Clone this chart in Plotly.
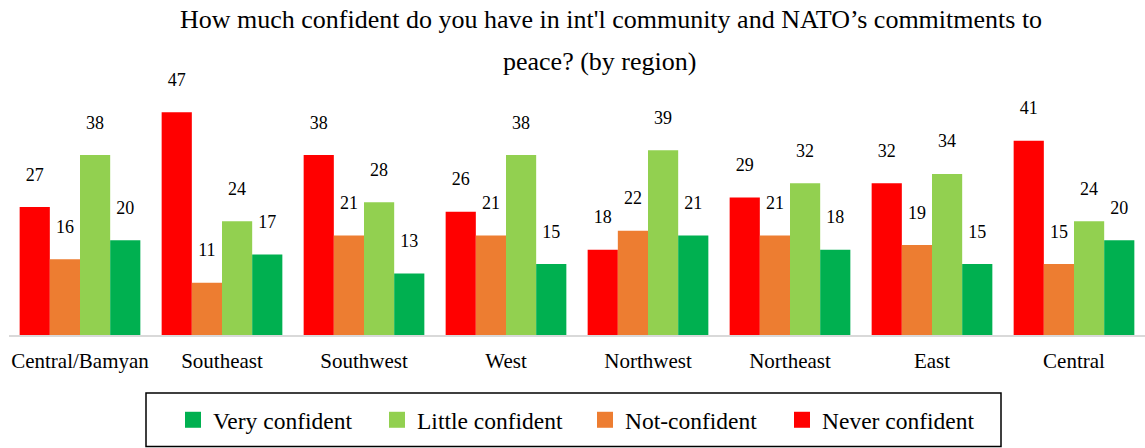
import plotly.graph_objects as go

categories = ["Central/Bamyan", "Southeast", "Southwest", "West", "Northwest", "Northeast", "East", "Central"]
never_confident = [27, 47, 38, 26, 18, 29, 32, 41]
not_confident = [16, 11, 21, 21, 22, 21, 19, 15]
little_confident = [38, 24, 28, 38, 39, 32, 34, 24]
very_confident = [20, 17, 13, 15, 21, 18, 15, 20]

series = [
    ("Never confident", never_confident, "#FF0000"),
    ("Not-confident", not_confident, "#ED7D31"),
    ("Little confident", little_confident, "#92D050"),
    ("Very confident", very_confident, "#00B050"),
]

FONT = "Liberation Serif"

# layout geometry (page body margin removed via post_script)
W, H = 1145, 448
ML, MR, MT, MB = 9, 0, 90, 113
PW = W - ML - MR
PH = H - MT - MB


def px_x(sx):
    return (sx - ML) / PW


def px_y(sy):
    return ((H - MB) - sy) / PH


fig = go.Figure()
for name, vals, color in series:
    fig.add_trace(go.Bar(
        x=categories, y=vals, name=name, marker_color=color,
        marker_line_width=0, showlegend=False,
        text=[f"{v}<br><span style='font-size:2px'> </span>" for v in vals],
        textposition="outside",
        textfont=dict(family=FONT, size=18, color="#000000"),
        cliponaxis=False, hoverinfo="skip",
    ))

# legend entries, one legend each for exact spacing
legend_left = [173, 377, 585, 782]
legend_names = ["legend", "legend2", "legend3", "legend4"]
legend_cfg = {}
for (name, vals, color), lg, lx in zip(reversed(series), legend_names, legend_left):
    fig.add_trace(go.Scatter(
        x=[None], y=[None], mode="markers", name=name, legend=lg,
        marker=dict(symbol="square", size=16, color=color),
        showlegend=True,
    ))
    legend_cfg[lg] = dict(
        orientation="h", x=px_x(lx), xanchor="left",
        y=px_y(420), yanchor="middle",
        borderwidth=0, bgcolor="rgba(0,0,0,0)",
        font=dict(family=FONT, size=23.5),
    )

fig.update_layout(
    width=W, height=H,
    margin=dict(l=ML, r=MR, t=MT, b=MB, autoexpand=False),
    barmode="group", bargap=0.15, bargroupgap=0,
    plot_bgcolor="white", paper_bgcolor="white",
    font=dict(family=FONT, size=18, color="#000000"),
    showlegend=True,
    shapes=[dict(
        type="rect", xref="paper", yref="paper",
        x0=px_x(146), x1=px_x(1001),
        y0=px_y(446.5), y1=px_y(393),
        line=dict(color="#000000", width=1.5), fillcolor="rgba(0,0,0,0)",
    )],
    **legend_cfg,
)
fig.update_xaxes(showline=True, linecolor="#D9D9D9", linewidth=1.5,
                 ticks="", tickfont=dict(family=FONT, size=21), ticklabelstandoff=6)
fig.update_yaxes(visible=False, range=[0, 51.7], showgrid=False)

fig.add_annotation(text="How much confident do you have in int'l community and NATO\u2019s commitments to",
                   xref="paper", yref="paper", x=px_x(611), y=px_y(19),
                   xanchor="center", yanchor="middle",
                   showarrow=False, font=dict(family=FONT, size=26))
fig.add_annotation(text="peace? (by region)",
                   xref="paper", yref="paper", x=px_x(599), y=px_y(62),
                   xanchor="center", yanchor="middle",
                   showarrow=False, font=dict(family=FONT, size=26))

fig.write_html("out.html",
               config={"displayModeBar": False},
               post_script="document.body.style.margin='0';document.body.style.overflow='hidden';")
